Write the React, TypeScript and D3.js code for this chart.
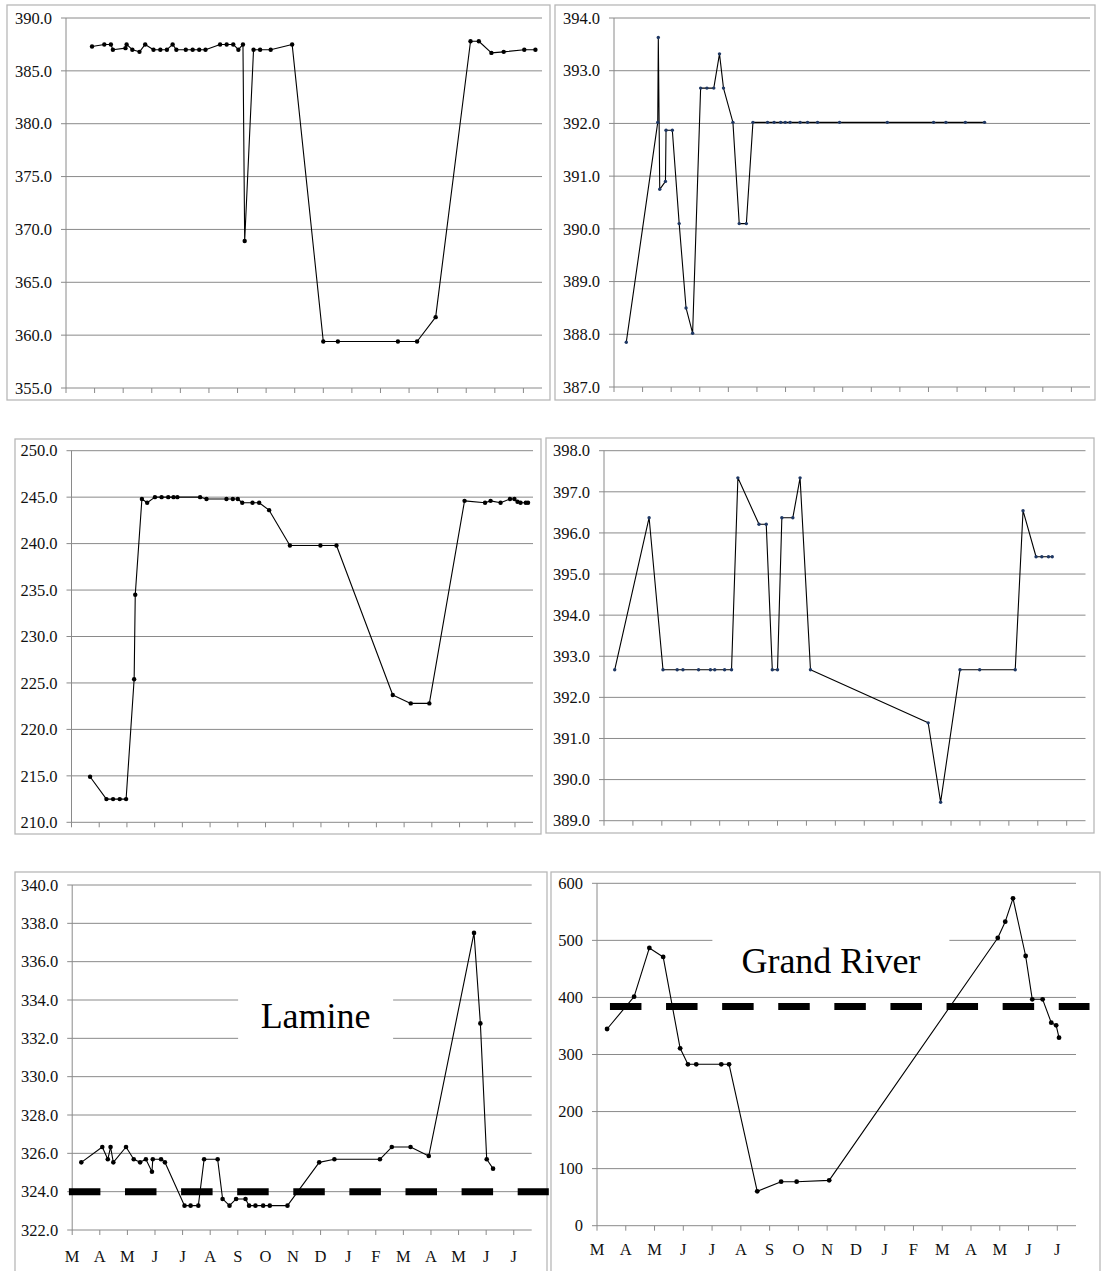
import React from 'react';
import * as d3 from 'd3';

// x positions are months counted from 1 March of the first year (0 = 1 Mar, 12 = 1 Mar next year)
const monthLabels = ['M', 'A', 'M', 'J', 'J', 'A', 'S', 'O', 'N', 'D', 'J', 'F', 'M', 'A', 'M', 'J', 'J'];
const monthSpan = 16.65;

const p1Months = [0.91, 1.34, 1.57, 1.64, 2.08, 2.12, 2.32, 2.57, 2.77, 3.06, 3.3, 3.53, 3.73, 3.86, 4.19, 4.43, 4.66, 4.88, 5.39, 5.62, 5.85, 6.03, 6.19, 6.25, 6.56, 6.79, 7.16, 7.91, 9.0, 9.51, 11.61, 12.28, 12.93, 14.15, 14.44, 14.88, 15.31, 16.03, 16.42];
const p1Values = [387.3, 387.5, 387.5, 387.0, 387.15, 387.5, 387.0, 386.8, 387.5, 387.0, 387.0, 387.0, 387.5, 387.0, 387.0, 387.0, 387.0, 387.0, 387.5, 387.5, 387.5, 387.0, 387.5, 368.9, 387.0, 387.0, 387.0, 387.5, 359.4, 359.4, 359.4, 359.4, 361.7, 387.8, 387.8, 386.7, 386.8, 387.0, 387.0];

const p2Months = [0.43, 1.53, 1.55, 1.6, 1.8, 1.82, 2.04, 2.28, 2.52, 2.75, 3.03, 3.25, 3.49, 3.69, 3.83, 4.16, 4.38, 4.63, 4.86, 5.37, 5.6, 5.83, 5.99, 6.16, 6.51, 6.77, 7.12, 7.89, 9.56, 11.18, 11.61, 12.29, 12.96];
const p2Values = [387.85, 392.02, 393.63, 390.75, 390.9, 391.87, 391.87, 390.1, 388.5, 388.02, 392.67, 392.67, 392.67, 393.32, 392.67, 392.02, 390.1, 390.1, 392.02, 392.02, 392.02, 392.02, 392.02, 392.02, 392.02, 392.02, 392.02, 392.02, 392.02, 392.02, 392.02, 392.02, 392.02];

const p3Months = [0.67, 1.26, 1.5, 1.74, 1.97, 2.26, 2.3, 2.54, 2.73, 3.01, 3.25, 3.49, 3.68, 3.82, 4.64, 4.87, 5.59, 5.82, 6.0, 6.16, 6.53, 6.77, 7.13, 7.88, 8.98, 9.56, 11.59, 12.24, 12.91, 14.18, 14.92, 15.12, 15.48, 15.82, 15.98, 16.09, 16.2, 16.39, 16.47];
const p3Values = [214.9, 212.5, 212.5, 212.5, 212.5, 225.4, 234.5, 244.8, 244.4, 245.0, 245.0, 245.0, 245.0, 245.0, 245.0, 244.8, 244.8, 244.8, 244.8, 244.4, 244.4, 244.4, 243.6, 239.8, 239.8, 239.8, 223.7, 222.8, 222.8, 244.6, 244.4, 244.6, 244.4, 244.8, 244.8, 244.5, 244.4, 244.4, 244.4];

const p4Months = [0.37, 1.56, 2.04, 2.53, 2.73, 3.27, 3.68, 3.83, 4.17, 4.41, 4.63, 5.36, 5.61, 5.82, 6.0, 6.15, 6.53, 6.78, 7.14, 11.21, 11.64, 12.31, 12.99, 14.22, 14.49, 14.94, 15.14, 15.37, 15.5];
const p4Values = [392.67, 396.37, 392.67, 392.67, 392.67, 392.67, 392.67, 392.67, 392.67, 392.67, 397.34, 396.21, 396.21, 392.67, 392.67, 396.37, 396.37, 397.34, 392.67, 391.38, 389.45, 392.67, 392.67, 392.67, 396.54, 395.42, 395.42, 395.42, 395.42];

const lamineMonths = [0.33, 1.09, 1.29, 1.39, 1.49, 1.95, 2.23, 2.46, 2.67, 2.89, 2.92, 3.22, 3.36, 4.07, 4.29, 4.57, 4.78, 5.27, 5.45, 5.7, 5.94, 6.28, 6.41, 6.64, 6.92, 7.16, 7.8, 8.95, 9.5, 11.15, 11.58, 12.26, 12.92, 14.56, 14.79, 15.02, 15.25];
const lamineValues = [325.53, 326.33, 325.69, 326.33, 325.53, 326.33, 325.69, 325.53, 325.69, 325.04, 325.69, 325.69, 325.53, 323.27, 323.27, 323.27, 325.69, 325.69, 323.62, 323.27, 323.62, 323.62, 323.27, 323.27, 323.27, 323.27, 323.27, 325.53, 325.69, 325.69, 326.33, 326.33, 325.86, 337.5, 332.78, 325.69, 325.2];
const lamineThreshold = 324;

const grandMonths = [0.35, 1.29, 1.82, 2.3, 2.89, 3.16, 3.45, 4.32, 4.59, 5.57, 6.4, 6.94, 8.07, 13.93, 14.19, 14.46, 14.9, 15.13, 15.49, 15.79, 15.96, 16.06];
const grandValues = [344.7, 401.4, 486.7, 470.9, 310.8, 282.8, 282.8, 282.8, 282.8, 60.2, 77.1, 77.1, 79.5, 504.2, 532.8, 573.7, 472.6, 396.7, 396.7, 355.8, 351.1, 329.5];
const grandThreshold = 384;

const serif = '"Liberation Serif", "Times New Roman", serif';
const gridColor = '#8a8a8a';
const frameColor = '#b8b8b8';

type Note = { text: string; month: number; value: number; boxW: number; above: number; below: number };
type Threshold = { value: number; from: number; to: number };

type PanelProps = {
  frame: [number, number, number, number];
  plot: [number, number, number, number];
  yDomain: [number, number];
  yStep: number;
  yFormat: (v: number) => string;
  months: number[];
  values: number[];
  markerR: number;
  markerFill: string;
  labelOffset?: number;
  threshold?: Threshold;
  note?: Note;
};

function Panel(p: PanelProps) {
  const [fx, fy, fw, fh] = p.frame;
  const [left, top, right, bottom] = p.plot;
  const x = d3.scaleLinear().domain([0, monthSpan]).range([left, right]);
  const y = d3.scaleLinear().domain(p.yDomain).range([bottom, top]);
  const yTicks = d3.range(p.yDomain[0], p.yDomain[1] + p.yStep / 2, p.yStep);
  const xTicks = d3.range(0, monthLabels.length);
  const pts = p.months.map((m, i) => [x(m), y(p.values[i])] as [number, number]);
  const path = d3.line()(pts) || '';

  return (
    <g>
      <rect x={fx} y={fy} width={fw} height={fh} fill="#fff" stroke={frameColor} strokeWidth={1.3} />
      {yTicks.map((t, i) => (
        <g key={'y' + i}>
          <line x1={left - 5} x2={right} y1={y(t)} y2={y(t)} stroke={gridColor} strokeWidth={1} />
          <text x={left - 14} y={y(t)} dy="0.35em" textAnchor="end" fontFamily={serif} fontSize={16.5} fill="#111">
            {p.yFormat(t)}
          </text>
        </g>
      ))}
      <line x1={left} x2={left} y1={top} y2={bottom} stroke={gridColor} strokeWidth={1} />
      {xTicks.map((t) => (
        <line key={'x' + t} x1={x(t)} x2={x(t)} y1={bottom} y2={bottom + 5} stroke={gridColor} strokeWidth={1} />
      ))}
      {p.labelOffset !== undefined &&
        xTicks.map((t) => (
          <text key={'xl' + t} x={x(t)} y={bottom + p.labelOffset!} textAnchor="middle" fontFamily={serif} fontSize={16.5} fill="#111">
            {monthLabels[t]}
          </text>
        ))}
      {p.note && (
        <g>
          <rect
            x={x(p.note.month) - p.note.boxW / 2}
            y={y(p.note.value) - p.note.above}
            width={p.note.boxW}
            height={p.note.above + p.note.below}
            fill="#fff"
          />
          <text x={x(p.note.month)} y={y(p.note.value)} textAnchor="middle" fontFamily={serif} fontSize={36} fill="#000">
            {p.note.text}
          </text>
        </g>
      )}
      <path d={path} fill="none" stroke="#000" strokeWidth={1.1} strokeLinejoin="round" />
      {pts.map((d, i) => (
        <circle key={'m' + i} cx={d[0]} cy={d[1]} r={p.markerR} fill={p.markerFill} />
      ))}
      {p.threshold && (
        <line
          x1={x(p.threshold.from)}
          x2={x(p.threshold.to)}
          y1={y(p.threshold.value)}
          y2={y(p.threshold.value)}
          stroke="#000"
          strokeWidth={7}
          strokeDasharray="31.5 24.6"
        />
      )}
    </g>
  );
}

const fmt1 = d3.format('.1f');
const fmt0 = d3.format('d');

export default function App() {
  return (
    <svg
      width={1104}
      height={1271}
      viewBox="0 0 1104 1271"
      style={{ position: 'absolute', left: 0, top: 0, background: '#fff' }}
    >
      <Panel frame={[7, 5, 543, 395]} plot={[66, 18, 542, 388]} yDomain={[355, 390]} yStep={5} yFormat={fmt1}
        months={p1Months} values={p1Values} markerR={2.2} markerFill="#000" />
      <Panel frame={[555, 5, 540, 395]} plot={[614, 18, 1090, 387]} yDomain={[387, 394]} yStep={1} yFormat={fmt1}
        months={p2Months} values={p2Values} markerR={1.7} markerFill="#1f3864" />
      <Panel frame={[15, 439, 526, 395]} plot={[71.5, 450.7, 533, 822.3]} yDomain={[210, 250]} yStep={5} yFormat={fmt1}
        months={p3Months} values={p3Values} markerR={2.2} markerFill="#000" />
      <Panel frame={[546, 438, 548, 395]} plot={[604, 450.7, 1085.5, 820.7]} yDomain={[389, 398]} yStep={1} yFormat={fmt1}
        months={p4Months} values={p4Values} markerR={1.7} markerFill="#1f3864" />
      <Panel frame={[15, 872, 532, 420]} plot={[72.2, 885, 531.7, 1230]} yDomain={[322, 340]} yStep={2} yFormat={fmt1}
        months={lamineMonths} values={lamineValues} markerR={2.3} markerFill="#000" labelOffset={31.7}
        threshold={{ value: lamineThreshold, from: -0.12, to: 17.27 }}
        note={{ text: 'Lamine', month: 8.82, value: 332.54, boxW: 155, above: 32, below: 14 }} />
      <Panel frame={[551, 872, 549, 420]} plot={[597, 883.3, 1076, 1225.7]} yDomain={[0, 600]} yStep={100} yFormat={fmt0}
        months={grandMonths} values={grandValues} markerR={2.4} markerFill="#000" labelOffset={29.5}
        threshold={{ value: grandThreshold, from: 0.45, to: 17.12 }}
        note={{ text: 'Grand River', month: 8.13, value: 442.3, boxW: 237, above: 48, below: 18 }} />
    </svg>
  );
}
